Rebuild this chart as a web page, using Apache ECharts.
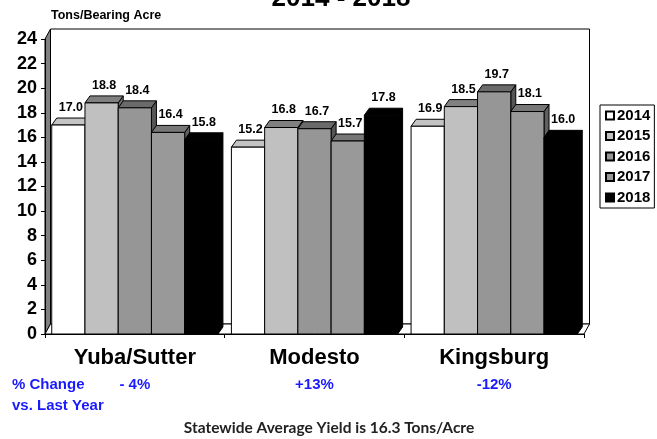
<!DOCTYPE html>
<html>
<head>
<meta charset="utf-8">
<script src="https://cdn.jsdelivr.net/npm/echarts@6/dist/echarts.min.js"></script>
<style>
html,body{margin:0;padding:0;background:#fff;}
#c{width:657px;height:439px;}
</style>
</head>
<body>
<div id="c"></div>
<script>
// ---- data ----
const categories = ['Yuba/Sutter', 'Modesto', 'Kingsburg'];
const years = ['2014', '2015', '2016', '2017', '2018'];
const y2014 = [17.0, 15.2, 16.9];
const y2015 = [18.8, 16.8, 18.5];
const y2016 = [18.4, 16.7, 19.7];
const y2017 = [16.4, 15.7, 18.1];
const y2018 = [15.8, 17.8, 16.0];
const pctChange = ['- 4%', '+13%', '-12%'];
const yMin = 0, yMax = 24, yStep = 2;

// ---- styles ----
const seriesValues = [y2014, y2015, y2016, y2017, y2018];
const frontColors = ['#ffffff', '#c0c0c0', '#969696', '#999999', '#000000'];
const topColors = ['#c4c4c4', '#808080', '#6a6a6a', '#777777', '#000000'];
const sideColors = ['#a0a0a0', '#6e6e6e', '#555555', '#606060', '#000000'];
const DX = 5, DY = 7;
const ARIAL = 'Arial, "Liberation Sans", sans-serif';

function makeRender(s) {
  return function (params, api) {
    const ci = api.value(0), v = api.value(1);
    const c = api.coord([ci, v]);
    const b = api.coord([ci, 0]);
    const band = api.size([1, 0])[0];
    const w = band * 0.925 / 5;
    const x0 = c[0] - 2.5 * w + s * w;
    const x1 = x0 + w;
    const yt = c[1], yb = b[1];
    const stroke = { stroke: '#000', lineWidth: 1 };
    return {
      type: 'group',
      children: [
        { type: 'polygon', shape: { points: [[x1, yt], [x1 + DX, yt - DY], [x1 + DX, yb - DY], [x1, yb]] },
          style: Object.assign({ fill: sideColors[s] }, stroke) },
        { type: 'polygon', shape: { points: [[x0, yt], [x0 + DX, yt - DY], [x1 + DX, yt - DY], [x1, yt]] },
          style: Object.assign({ fill: topColors[s] }, stroke) },
        { type: 'rect', shape: { x: x0, y: yt, width: w, height: yb - yt },
          style: Object.assign({ fill: frontColors[s] }, stroke) },
        { type: 'text', z2: 10, style: { text: v.toFixed(1), x: (x0 + x1) / 2 + 2.5, y: yt - 17.5,
          align: 'center', verticalAlign: 'middle', fill: '#000',
          font: 'bold 12.5px ' + ARIAL } }
      ]
    };
  };
}

const series = years.map((yr, s) => ({
  type: 'custom',
  name: yr,
  renderItem: makeRender(s),
  encode: { x: 0, y: 1 },
  itemStyle: { color: frontColors[s], borderColor: '#000', borderWidth: 1 },
  data: seriesValues[s].map((v, i) => [i, v]),
  z: 5
}));

const W = 657, H = 439;
const GRID = { left: 45, right: 73, top: 39, bottom: 105 };
const chart = echarts.init(document.getElementById('c'), null, { renderer: 'canvas' });

// decorative 3D frame (back wall, side wall, floor) derived from the grid box
const xl = GRID.left, xr = W - GRID.right, yt = GRID.top, yb = H - GRID.bottom;
const WX = 5.5, WY = -10;
const blueFont = 'bold 15px ' + ARIAL;

chart.setOption({
  animation: false,
  backgroundColor: '#fff',
  grid: GRID,
  xAxis: [{
    type: 'category', data: categories, boundaryGap: true,
    axisLine: { lineStyle: { color: '#000', width: 1 } },
    axisTick: { show: true, length: 4, lineStyle: { color: '#000' } },
    axisLabel: { margin: 13, color: '#000', fontSize: 22, fontWeight: 'bold', fontFamily: ARIAL },
    splitLine: { show: false }
  }, {
    type: 'category', data: pctChange, position: 'bottom', gridIndex: 0,
    axisLine: { show: false }, axisTick: { show: false },
    axisLabel: { margin: 43, color: '#1a1aff', fontSize: 15, fontWeight: 'bold', fontFamily: ARIAL }
  }],
  yAxis: {
    type: 'value', min: yMin, max: yMax, interval: yStep,
    axisLine: { show: true, lineStyle: { color: '#000', width: 1 } },
    axisTick: { show: true, length: 4, lineStyle: { color: '#000' } },
    axisLabel: { margin: 8, color: '#000', fontSize: 18, fontWeight: 'bold', fontFamily: ARIAL },
    splitLine: { show: false }
  },
  legend: {
    orient: 'vertical', left: 600, top: 105,
    itemWidth: 8, itemHeight: 8, itemGap: 5.5,
    icon: 'rect',
    padding: [3, 4, 3, 5],
    borderColor: '#000', borderWidth: 1,
    data: years,
    textStyle: { color: '#000', fontSize: 15, fontWeight: 'bold', fontFamily: ARIAL, padding: [0, 0, 0, -2] }
  },
  series: series,
  graphic: [
    { type: 'rect', z: -1, shape: { x: xl + WX, y: yt + WY, width: xr - xl, height: yb - yt },
      style: { fill: '#fff', stroke: '#000', lineWidth: 1 } },
    { type: 'polygon', z: -1, shape: { points: [[xl, yt], [xl + WX, yt + WY], [xl + WX, yb + WY], [xl, yb]] },
      style: { fill: '#808080', stroke: '#000', lineWidth: 1 } },
    { type: 'polygon', z: -1, shape: { points: [[xl, yb], [xl + WX, yb + WY], [xr + WX, yb + WY], [xr, yb]] },
      style: { fill: '#fff', stroke: '#000', lineWidth: 1 } },
    { type: 'text', style: { text: 'Tons/Bearing Acre', x: 51, y: 16, verticalAlign: 'middle', fill: '#000', font: 'bold 12.5px ' + ARIAL } },
    { type: 'text', style: { text: '2014 - 2018', x: 341, y: -1, align: 'center', verticalAlign: 'middle', fill: '#000', font: 'bold 26px ' + ARIAL } },
    { type: 'text', style: { text: '% Change', x: 12, y: 385, verticalAlign: 'middle', fill: '#1a1aff', font: blueFont } },
    { type: 'text', style: { text: 'vs. Last Year', x: 12, y: 406, verticalAlign: 'middle', fill: '#1a1aff', font: blueFont } },
    { type: 'text', style: { text: 'Statewide Average Yield is 16.3 Tons/Acre', x: 329, y: 428, align: 'center', verticalAlign: 'middle', fill: '#222', font: 'bold 15.5px Lato, "Noto Sans", sans-serif' } }
  ]
});
</script>
</body>
</html>
